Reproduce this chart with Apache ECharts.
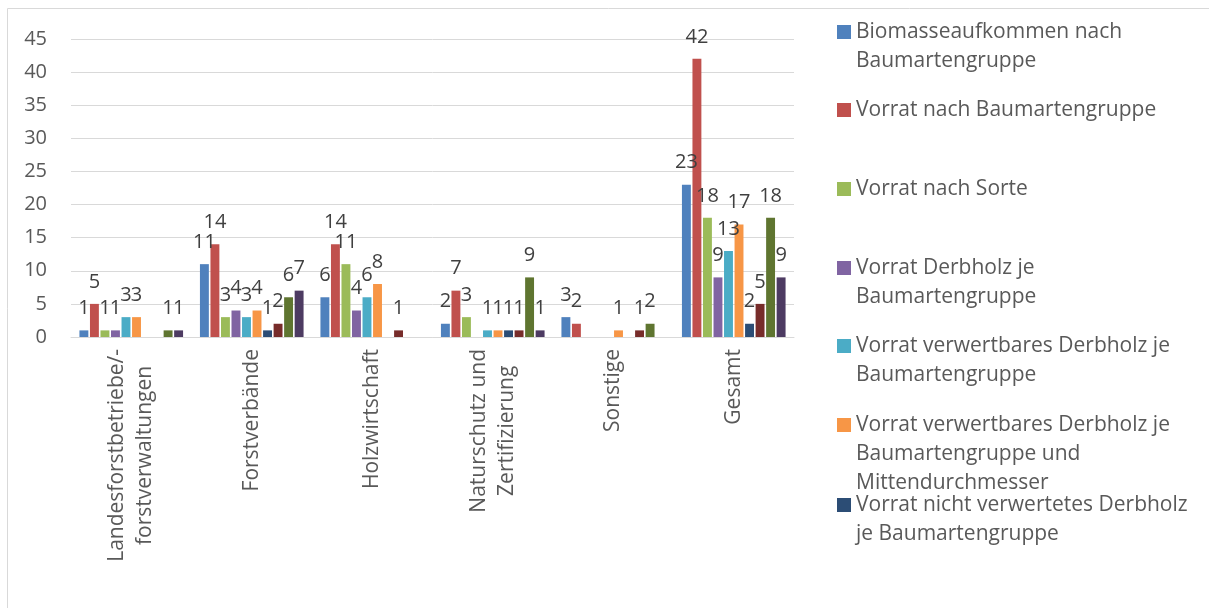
<!DOCTYPE html>
<html>

<head>
  <meta charset="utf-8">
  <title>Datenbedarf</title>
  <script src="https://cdn.jsdelivr.net/npm/echarts@6.0.0/dist/echarts.min.js"></script>
  <style>
    html, body { margin: 0; padding: 0; background: #fff; }
    #chart { width: 1209px; height: 608px; }
  </style>
</head>

<body>
  <div id="chart"></div>
  <script type="text/javascript">
    // Kategorien (x-Achse)
    var categories = ['Landesforstbetriebe/-\nforstverwaltungen', 'Forstverbände', 'Holzwirtschaft',
      'Naturschutz und\nZertifizierung', 'Sonstige', 'Gesamt'];

    // Serien, null = kein Balken
    var names = [
      'Biomasseaufkommen nach\nBaumartengruppe',
      'Vorrat nach Baumartengruppe',
      'Vorrat nach Sorte',
      'Vorrat Derbholz je\nBaumartengruppe',
      'Vorrat verwertbares Derbholz je\nBaumartengruppe',
      'Vorrat verwertbares Derbholz je\nBaumartengruppe und\nMittendurchmesser',
      'Vorrat nicht verwertetes Derbholz\nje Baumartengruppe',
      'Serie 8',
      'Serie 9',
      'Serie 10'
    ];
    var s1 = [1, 11, 6, 2, 3, 23];
    var s2 = [5, 14, 14, 7, 2, 42];
    var s3 = [1, 3, 11, 3, null, 18];
    var s4 = [1, 4, 4, null, null, 9];
    var s5 = [3, 3, 6, 1, null, 13];
    var s6 = [3, 4, 8, 1, 1, 17];
    var s7 = [null, 1, null, 1, null, 2];
    var s8 = [null, 2, 1, 1, 1, 5];
    var s9 = [1, 6, null, 9, 2, 18];
    var s10 = [1, 7, null, 1, null, 9];
    var values = [s1, s2, s3, s4, s5, s6, s7, s8, s9, s10];

    var yTicks = [0, 5, 10, 15, 20, 25, 30, 35, 40, 45];

    var colors = ['#4F81BD', '#C0504D', '#9BBB59', '#8064A2', '#4BACC6',
      '#F79646', '#2C4D75', '#772C2A', '#5F7530', '#4D3B62'];

    var font = '"Open Sans", "DejaVu Sans", sans-serif';
    var lh = 29;
    // Mitte der ersten Legendenzeile
    var legendY = [32, 110, 189, 268, 346, 425, 505];

    var myChart = echarts.init(document.getElementById('chart'));

    var series = [];
    for (var i = 0; i < values.length; i++) {
      series.push({
        name: names[i],
        type: 'bar',
        data: values[i],
        barGap: '18%',
        barCategoryGap: '14%',
        itemStyle: { color: colors[i] },
        label: {
          show: true,
          position: 'top',
          distance: 12,
          color: '#404040',
          fontSize: 20,
          fontFamily: font
        }
      });
    }

    // eine Legende je Eintrag, damit der Abstand wie im Original gleich bleibt
    // leere Zeilen oben sorgen dafuer, dass das Symbol auf Hoehe der ersten Zeile steht
    var legends = [];
    for (var j = 0; j < legendY.length; j++) {
      var n = names[j].split('\n').length;
      legends.push({
        data: [names[j]],
        orient: 'vertical',
        left: 837,
        top: legendY[j] - (2 * n - 1) * lh / 2,
        itemWidth: 14,
        itemHeight: 14,
        itemGap: 0,
        icon: 'rect',
        padding: 0,
        selectedMode: false,
        formatter: (function (k) {
          return function (name) {
            var pre = '';
            for (var p = 1; p < k; p++) pre += ' \n';
            return pre + name;
          };
        })(n),
        textStyle: {
          color: '#595959',
          fontSize: 21,
          fontFamily: font,
          lineHeight: lh
        }
      });
    }

    var option = {
      color: colors,
      animation: false,
      legend: legends,
      grid: {
        left: 71,
        right: 415,
        top: 39,
        bottom: 271
      },
      xAxis: {
        type: 'category',
        data: categories,
        axisLine: { lineStyle: { color: '#d9d9d9', width: 1 } },
        axisTick: { show: false },
        axisLabel: {
          rotate: 90,
          interval: 0,
          margin: 12,
          color: '#595959',
          fontSize: 21,
          fontFamily: font,
          lineHeight: 28,
          formatter: function (v) {
            return v.split('\n').map(function (t) { return '{c|' + t + '}'; }).join('\n');
          },
          rich: {
            c: { align: 'center', color: '#595959', fontSize: 21, fontFamily: font, lineHeight: 28 }
          }
        }
      },
      yAxis: {
        type: 'value',
        min: yTicks[0],
        max: yTicks[yTicks.length - 1],
        interval: 5,
        axisLine: { show: false },
        axisTick: { show: false },
        axisLabel: { margin: 24, color: '#595959', fontSize: 20, fontFamily: font },
        splitLine: { lineStyle: { color: '#d9d9d9', width: 1 } }
      },
      graphic: [{
        type: 'rect',
        shape: { x: 7.5, y: 8.5, width: 1300, height: 700 },
        style: { fill: 'none', stroke: '#d9d9d9', lineWidth: 1 },
        silent: true
      }],
      series: series
    };
    myChart.setOption(option);
  </script>
</body>

</html>
